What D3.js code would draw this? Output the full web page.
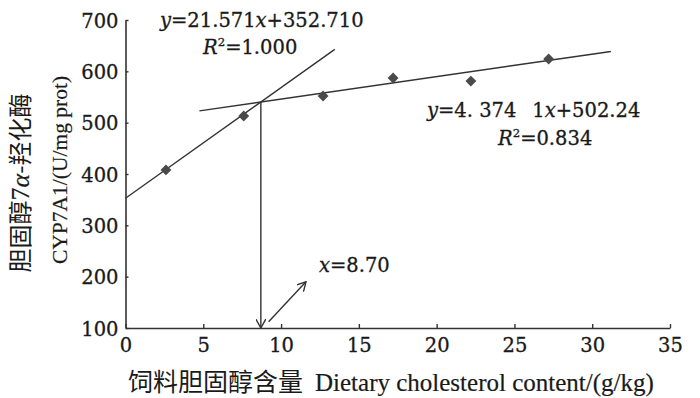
<!DOCTYPE html>
<html><head><meta charset="utf-8">
<script src="https://cdn.jsdelivr.net/npm/d3@7"></script>
<style>
body{margin:0;background:#fff;}
text{font-family:"DejaVu Serif","Liberation Serif",serif;fill:#1a1a1a;stroke:#1a1a1a;stroke-width:0.3px;}
.cjk{font-family:"Noto Sans CJK SC","Noto Sans CJK JP",sans-serif;stroke-width:0;}
.times{font-family:"Liberation Serif","DejaVu Serif",serif;stroke-width:0.2px;}
</style></head>
<body><svg id="c" width="700" height="398"></svg>
<script>
// data
const xValues = [2.6, 7.6, 12.7, 17.2, 22.2, 27.2];
const yValues = [408, 513, 552, 587, 581, 624];
const xTicks = [0, 5, 10, 15, 20, 25, 30, 35];
const yTicks = [100, 200, 300, 400, 500, 600, 700];
const fit1 = {slope: 21.571, intercept: 352.71, x0: 0, x1: 13.45};
const fit2 = {slope: 4.3741, intercept: 502.24, x0: 4.75, x1: 31.2};
const crossX = 8.70;
const arrowFrom = [9.2, 112];
const arrowTo = [11.6, 190];

const svg = d3.select("#c");
const x = d3.scaleLinear().domain([0, 35]).range([125.5, 670]);
const y = d3.scaleLinear().domain([100, 700]).range([328, 20]);
const col = "#333";
const FS = 19.5;

svg.append("defs").append("marker")
  .attr("id","ah").attr("viewBox","0 0 10 10").attr("refX",9).attr("refY",5)
  .attr("markerWidth",10).attr("markerHeight",10).attr("markerUnits","userSpaceOnUse")
  .attr("orient","auto")
  .append("path").attr("d","M0,0 L9,5 L0,10").attr("fill","none").attr("stroke",col).attr("stroke-width",1.4);

// axes
const gx = svg.append("g").attr("transform","translate(0,328)")
  .call(d3.axisBottom(x).tickValues(xTicks).tickSizeInner(-4).tickSizeOuter(0).tickPadding(10));
const gy = svg.append("g").attr("transform","translate(125.5,0)")
  .call(d3.axisLeft(y).tickValues(yTicks).tickSizeInner(-3).tickSizeOuter(0).tickPadding(7));
[gx, gy].forEach(g => {
  g.attr("font-family", null);
  g.select(".domain").attr("stroke",col).attr("stroke-width",1.6);
  g.selectAll(".tick line").attr("stroke",col).attr("stroke-width",1.4);
  g.selectAll(".tick text").attr("font-size",FS).attr("fill","#1a1a1a");
});
gx.selectAll(".tick text").attr("dy","0.7em");
gy.selectAll(".tick text").attr("dy","0.36em");

// fit lines
[fit1, fit2].forEach(f => {
  svg.append("line")
    .attr("x1", x(f.x0)).attr("y1", y(f.slope*f.x0 + f.intercept))
    .attr("x2", x(f.x1)).attr("y2", y(f.slope*f.x1 + f.intercept))
    .attr("stroke", col).attr("stroke-width", 1.4);
});

// vertical arrow
const crossY = fit1.slope*crossX + fit1.intercept;
svg.append("line")
  .attr("x1", x(crossX)).attr("y1", y(crossY))
  .attr("x2", x(crossX)).attr("y2", y(100))
  .attr("stroke", col).attr("stroke-width", 1.4).attr("marker-end","url(#ah)");
svg.append("line")
  .attr("x1", x(arrowFrom[0])).attr("y1", y(arrowFrom[1]))
  .attr("x2", x(arrowTo[0])).attr("y2", y(arrowTo[1]))
  .attr("stroke", col).attr("stroke-width", 1.4).attr("marker-end","url(#ah)");

// points
svg.selectAll(".pt").data(xValues).enter().append("path")
  .attr("class","pt")
  .attr("d", d3.symbol(d3.symbolDiamond2, 75)())
  .attr("transform", (d,i) => `translate(${x(d)},${y(yValues[i])})`)
  .attr("fill", "#4a4a4a");

// annotations
function eq(parts, tx, ty, size){
  const t = svg.append("text").attr("x",tx).attr("y",ty).attr("font-size",size);
  parts.forEach(p => {
    const s = t.append("tspan").text(p.t);
    if (p.i) s.attr("font-style","italic");
    if (p.sup) s.attr("font-size", size*0.6).attr("dy", -size*0.4);
    if (p.down) s.attr("dy", size*0.4);
  });
  return t;
}
eq([{t:"y",i:1},{t:"=21.571"},{t:"x",i:1},{t:"+352.710"}], 160, 27, FS);
eq([{t:"R",i:1},{t:"2",sup:1},{t:"=1.000",down:1}], 203, 54, FS);
eq([{t:"y",i:1},{t:"=4. 374\u2002 1"},{t:"x",i:1},{t:"+502.24"}], 427, 117, FS);
eq([{t:"R",i:1},{t:"2",sup:1},{t:"=0.834",down:1}], 498, 145, FS);
eq([{t:"x",i:1},{t:"=8.70"}], 319, 272, FS);

// axis titles
const xt = svg.append("text").attr("x",128).attr("y",391);
xt.append("tspan").attr("class","cjk").attr("font-size",25).text("饲料胆固醇含量");
xt.append("tspan").attr("class","times").attr("font-size",25).attr("dx",12)
  .text("Dietary cholesterol content/(g/kg)");

const yt1 = svg.append("text").attr("transform","translate(29,183) rotate(-90)")
  .attr("text-anchor","middle").attr("font-size",24);
yt1.append("tspan").attr("class","cjk").text("胆固醇");
yt1.append("tspan").attr("class","times").attr("font-size",26).text("7");
yt1.append("tspan").attr("class","times").attr("font-size",26).attr("font-style","italic").text("α");
yt1.append("tspan").attr("class","cjk").text("-羟化酶");

svg.append("text").attr("class","times").attr("transform","translate(67,170) rotate(-90)")
  .attr("text-anchor","middle").attr("font-size",21.5).text("CYP7A1/(U/mg prot)");
</script></body></html>
